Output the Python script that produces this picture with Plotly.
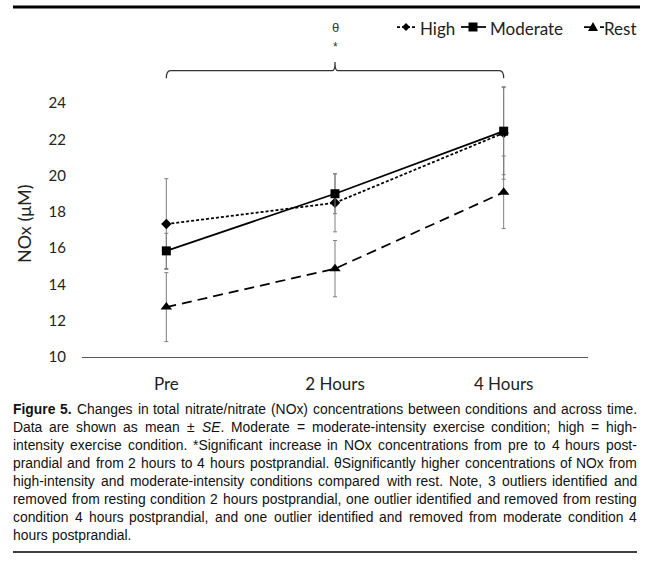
import re
import plotly.graph_objects as go

# ---------------- data ----------------
categories = ["Pre", "2 Hours", "4 Hours"]
high_mean = [17.33, 18.5, 22.35]
high_se = [2.5, 1.6, 2.55]
moderate_mean = [15.85, 19.0, 22.45]
moderate_se = [0.97, 1.1, 2.4]
rest_mean = [12.75, 14.87, 19.08]
rest_se = [1.9, 1.55, 2.0]
y_ticks = [10, 12, 14, 16, 18, 20, 22, 24]
series_names = ["High", "Moderate", "Rest"]

caption_lines = [
    "<b>Figure</b> <b>5.</b> Changes in total nitrate/nitrate (NOx) concentrations between conditions and across time.",
    "Data are shown as mean ± <i>SE</i>. Moderate = moderate-intensity exercise condition; high = high-",
    "intensity exercise condition. *Significant increase in NOx concentrations from pre to 4 hours post-",
    "prandial and from 2 hours to 4 hours postprandial. θSignificantly higher concentrations of NOx from",
    "high-intensity and moderate-intensity conditions compared with rest. Note, 3 outliers identified and",
    "removed from resting condition 2 hours postprandial, one outlier identified and removed from resting",
    "condition 4 hours postprandial, and one outlier identified and removed from moderate condition 4",
    "hours postprandial.",
]

# ---------------- layout geometry (pixels) ----------------
W, H = 650, 561
PL, PR, PT, PB = 82, 588, 20, 357
PX_PER_UNIT = 18.14
y_top = 10 + (PB - PT) / PX_PER_UNIT


def xp(px):
    return (px - PL) / (PR - PL)


def yp(py):
    return (PB - py) / (PB - PT)


def yd(py):
    return 10 + (PB - py) / PX_PER_UNIT


fig = go.Figure()

err_style = dict(type="data", visible=True, color="#7f7f7f", thickness=1, width=2)
dashes = ["3px,2px", "solid", "10px,6px"]
symbols = ["diamond", "square", "triangle-up"]
sizes = [8, 9, 10]
means = [high_mean, moderate_mean, rest_mean]
ses = [high_se, moderate_se, rest_se]

for name, m, s, d, sym, sz in zip(series_names, means, ses, dashes, symbols, sizes):
    fig.add_trace(go.Scatter(
        x=categories, y=m, name=name, mode="lines+markers", showlegend=False,
        error_y=dict(array=s, **err_style),
        line=dict(color="black", width=1.75, dash=d),
        marker=dict(symbol=sym, size=sz, color="black")))

# significance bracket
yb = yd(70.7)
dn = 7.5 / PX_PER_UNIT
up = 8.7 / PX_PER_UNIT
bracket = (f"M 0,{yb-dn} Q 0,{yb} 0.025,{yb} L 0.985,{yb} Q 1,{yb} 1,{yb+up} "
           f"Q 1,{yb} 1.015,{yb} L 1.975,{yb} Q 2,{yb} 2,{yb-dn}")
shapes = [dict(type="path", xref="x", yref="y", path=bracket,
               line=dict(color="#333333", width=1.2))]

# page rules
shapes.append(dict(type="line", xref="paper", yref="paper", x0=xp(13), x1=xp(640),
                   y0=yp(7), y1=yp(7), line=dict(color="black", width=3)))
shapes.append(dict(type="line", xref="paper", yref="paper", x0=xp(13), x1=xp(637),
                   y0=yp(552), y1=yp(552), line=dict(color="black", width=1.5)))

annotations = [
    dict(x=1, y=yd(47), xref="x", yref="y", text="*", showarrow=False,
         font=dict(family="Liberation Sans", size=12, color="#333333")),
    dict(x=1, y=yd(27), xref="x", yref="y", text="θ", showarrow=False,
         font=dict(family="Liberation Sans", size=13, color="#333333")),
    dict(x=xp(24), y=yp(224), xref="paper", yref="paper", text="NOx (μM)",
         textangle=-90, showarrow=False, xanchor="center", yanchor="middle",
         font=dict(family="Lato", size=18, color="#222222")),
]

# ---------------- legend (key drawn as shapes + text) ----------------
LEG_Y = 27


def ppath(pts):
    return "M " + " L ".join(f"{xp(a)},{yp(b)}" for a, b in pts) + " Z"


leg_items = [
    # (line x0, x1, marker cx, text x, anchor)
    (397, 416, 406, 418, "left"),
    (461, 486, 473, 488, "left"),
    (584, 604, 593, 639, "right"),
]
for (x0, x1, cx, tx, anc), name, d in zip(leg_items, series_names, dashes):
    shapes.append(dict(type="line", xref="paper", yref="paper", x0=xp(x0), x1=xp(x1),
                       y0=yp(LEG_Y), y1=yp(LEG_Y),
                       line=dict(color="black", width=1.75, dash=d)))
    annotations.append(dict(x=xp(tx), y=yp(LEG_Y + 1), xref="paper", yref="paper",
                            text=name, xanchor=anc, yanchor="middle", showarrow=False,
                            font=dict(family="Lato", size=17, color="#222222")))
# legend marker glyphs
cxh, cxm, cxr = leg_items[0][2], leg_items[1][2], leg_items[2][2]
shapes.append(dict(type="path", xref="paper", yref="paper", fillcolor="black",
                   line=dict(width=0),
                   path=ppath([(cxh, LEG_Y - 4), (cxh + 4, LEG_Y), (cxh, LEG_Y + 4), (cxh - 4, LEG_Y)])))
shapes.append(dict(type="path", xref="paper", yref="paper", fillcolor="black",
                   line=dict(width=0),
                   path=ppath([(cxm - 4.5, LEG_Y - 4.5), (cxm + 4.5, LEG_Y - 4.5),
                               (cxm + 4.5, LEG_Y + 4.5), (cxm - 4.5, LEG_Y + 4.5)])))
shapes.append(dict(type="path", xref="paper", yref="paper", fillcolor="black",
                   line=dict(width=0),
                   path=ppath([(cxr, LEG_Y - 5), (cxr + 5, LEG_Y + 4), (cxr - 5, LEG_Y + 4)])))

# ---------------- justified caption ----------------
reg = {' ': 278, '(': 333, ')': 333, '*': 389, ',': 278, '-': 333, '.': 278, '/': 278,
       ';': 278, '=': 584, '±': 584, 'θ': 556,
       'A': 667, 'B': 667, 'C': 722, 'D': 722, 'E': 667, 'F': 611, 'G': 778, 'H': 722,
       'I': 278, 'M': 833, 'N': 722, 'O': 778, 'P': 667, 'R': 722, 'S': 667, 'T': 611,
       'X': 667,
       'a': 556, 'b': 556, 'c': 500, 'd': 556, 'e': 556, 'f': 278, 'g': 556, 'h': 556,
       'i': 222, 'j': 222, 'k': 500, 'l': 222, 'm': 833, 'n': 556, 'o': 556, 'p': 556,
       'q': 556, 'r': 333, 's': 500, 't': 278, 'u': 556, 'v': 500, 'w': 722, 'x': 500,
       'y': 500, 'z': 500}
bold = {'F': 611, 'i': 278, 'g': 611, 'u': 611, 'r': 389, 'e': 556, '.': 278}


def word_em(w):
    b = '<b>' in w
    plain = re.sub('<[^>]+>', '', w)
    tot = 0
    for c in plain:
        if c.isdigit():
            tot += 556
        elif b and c in bold:
            tot += bold[c]
        else:
            tot += reg.get(c, 556)
    return tot / 1000.0


CAP_L, CAP_R = 13, 637
target = CAP_R - CAP_L
fits = []
for line in caption_lines[:-1]:
    words = line.split(' ')
    nat = sum(word_em(w) for w in words) + 0.278 * (len(words) - 1)
    fits.append(target / nat)
fs = min(min(fits) * 0.985, 14.0)

for i, line in enumerate(caption_lines):
    words = line.split(' ')
    widths = [word_em(w) * fs for w in words]
    if i < len(caption_lines) - 1:
        gap = (target - sum(widths)) / (len(words) - 1)
    else:
        gap = 0.278 * fs
    x = CAP_L
    ycen = 409 + 18.0 * i
    for w, ww in zip(words, widths):
        annotations.append(dict(
            x=xp(x - 1), y=yp(ycen), xref="paper", yref="paper", text=w,
            xanchor="left", yanchor="middle", showarrow=False, borderpad=0,
            font=dict(family="Liberation Sans", size=fs, color="#111111")))
        x += ww + gap

fig.update_layout(
    width=W, height=H,
    margin=dict(l=PL, r=W - PR, t=PT, b=H - PB, pad=0),
    paper_bgcolor="white", plot_bgcolor="white",
    showlegend=False,
    xaxis=dict(range=[-0.5, 2.5], showgrid=False, zeroline=False, showline=True,
               linecolor="#595959", linewidth=1, ticks="",
               tickfont=dict(family="Lato", size=17, color="#222222"),
               ticklabelstandoff=12, fixedrange=True),
    yaxis=dict(range=[10, y_top], showgrid=False, zeroline=False, showline=False,
               ticks="", tickvals=y_ticks,
               tickfont=dict(family="Lato", size=15, color="#222222"),
               ticklabelstandoff=15, fixedrange=True),
    shapes=shapes, annotations=annotations,
)

fig.write_html("out.html", config={"displayModeBar": False},
               post_script="document.body.style.margin='0';document.body.style.padding='0';")
